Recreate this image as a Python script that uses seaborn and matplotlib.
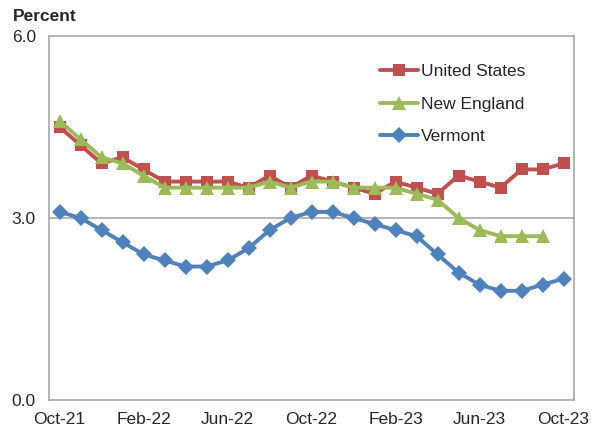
import matplotlib
matplotlib.use("Agg")
import matplotlib.pyplot as plt
import seaborn as sns
import pandas as pd
import numpy as np

months = ["Oct-21", "Nov-21", "Dec-21", "Jan-22", "Feb-22", "Mar-22", "Apr-22", "May-22",
          "Jun-22", "Jul-22", "Aug-22", "Sep-22", "Oct-22", "Nov-22", "Dec-22", "Jan-23",
          "Feb-23", "Mar-23", "Apr-23", "May-23", "Jun-23", "Jul-23", "Aug-23", "Sep-23", "Oct-23"]

united_states = [4.5, 4.2, 3.9, 4.0, 3.8, 3.6, 3.6, 3.6, 3.6, 3.5, 3.7, 3.5, 3.7,
                 3.6, 3.5, 3.4, 3.6, 3.5, 3.4, 3.7, 3.6, 3.5, 3.8, 3.8, 3.9]
new_england = [4.6, 4.3, 4.0, 3.9, 3.7, 3.5, 3.5, 3.5, 3.5, 3.5, 3.6, 3.5, 3.6,
               3.6, 3.5, 3.5, 3.5, 3.4, 3.3, 3.0, 2.8, 2.7, 2.7, 2.7, None]
vermont = [3.1, 3.0, 2.8, 2.6, 2.4, 2.3, 2.2, 2.2, 2.3, 2.5, 2.8, 3.0, 3.1,
           3.1, 3.0, 2.9, 2.8, 2.7, 2.4, 2.1, 1.9, 1.8, 1.8, 1.9, 2.0]

series = {"United States": united_states, "New England": new_england, "Vermont": vermont}
rows = []
for name, vals in series.items():
    for i, v in enumerate(vals):
        if v is not None:
            rows.append({"idx": i, "month": months[i], "value": v, "region": name})
df = pd.DataFrame(rows)

palette = {"United States": "#C0504D", "New England": "#9BBB59", "Vermont": "#4F81BD"}
markers = {"United States": "s", "New England": "^", "Vermont": "D"}
msizes = {"United States": 8.5, "New England": 9.5, "Vermont": 8}

sns.set_style("white")
plt.rcParams["font.family"] = ["Liberation Sans", "DejaVu Sans"]

fig = plt.figure(figsize=(5.92, 4.30), dpi=100)
ax = fig.add_axes([0.0828, 0.0698, 0.8868, 0.8465])

for name in series:
    sub = df[df["region"] == name]
    sns.lineplot(data=sub, x="idx", y="value", ax=ax, color=palette[name],
                 marker=markers[name], markersize=msizes[name], markeredgewidth=0,
                 linewidth=2.8, label=name)

fs = 12.5
ax.set_xlim(-0.5, len(months) - 0.5)
ax.set_ylim(0, 6)
ax.set_yticks([0, 3, 6])
ax.set_yticklabels(["0.0", "3.0", "6.0"], fontsize=fs)
label_pos = list(range(0, len(months), 4))
ax.set_xticks(label_pos)
ax.set_xticklabels([months[i] for i in label_pos], fontsize=fs)
ax.set_xticks(np.arange(-0.5, len(months) - 1, 4), minor=True)
ax.tick_params(axis="x", which="major", length=0, pad=9)
ax.tick_params(axis="x", which="minor", length=4, width=1, color="#8c8c8c", direction="out")
ax.tick_params(axis="y", which="major", length=4.5, width=1, color="#8c8c8c", direction="out", pad=5)
ax.set_xlabel("")
ax.set_ylabel("")
ax.axhline(3, color="#a0a0a0", linewidth=1.1, zorder=0)
for sp in ax.spines.values():
    sp.set_color("#a0a0a0")
    sp.set_linewidth(1.1)

ax.legend(loc="upper left", bbox_to_anchor=(0.6, 0.966), frameon=False, fontsize=fs,
          handlelength=2.2, labelspacing=1.0, handletextpad=0.2)

fig.text(0.022, 0.962, "Percent", fontsize=12.5, fontweight="bold", ha="left", va="center")

fig.savefig("out.png", dpi=100)
